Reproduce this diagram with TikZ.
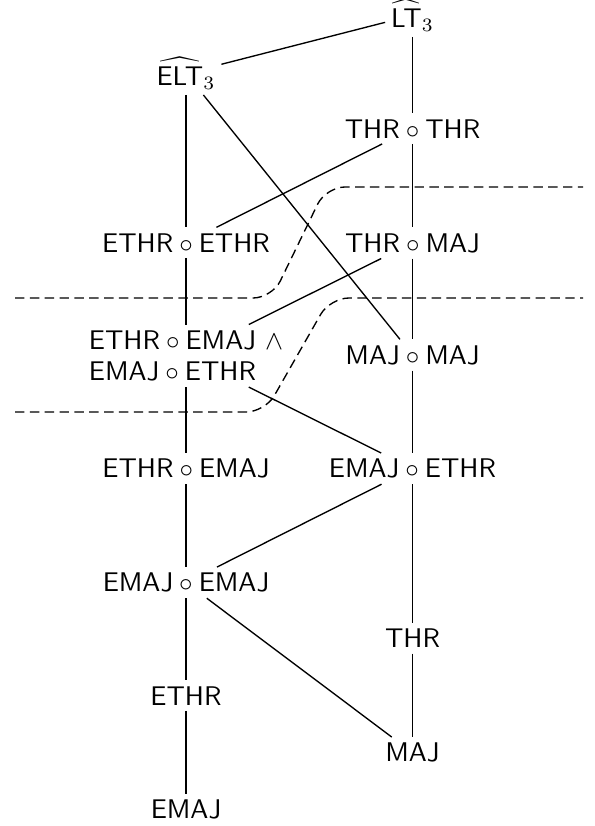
\documentclass[tikz,border=0pt]{standalone}
\newcommand{\compo}{${}\circ{}$}
\begin{document}
\begin{tikzpicture}[x=0.37037pt, y=-0.37037pt,
  every node/.style={font=\sffamily, inner sep=2pt},
  lbl/.style={anchor=base},
  conn/.style={line width=0.5pt},
  sepline/.style={line width=0.5pt, dash pattern=on 3.5pt off 2pt, rounded corners=7pt}]
\useasboundingbox (0,0) rectangle (595,826);
% nodes
\node[lbl] (lt)   at (412.5,27)  {$\widehat{\mathsf{LT}}_3$};
\node[lbl] (elt)  at (186,85)    {$\widehat{\mathsf{ELT}}_3$};
\node[lbl] (tt)   at (412.5,138) {THR\compo THR};
\node[lbl] (ee)   at (186,252)   {ETHR\compo ETHR};
\node[lbl] (tm)   at (412.5,252) {THR\compo MAJ};
\node[anchor=north, align=left, font=\sffamily\fontsize{10}{11.6}\selectfont] (two) at (186,324.5)
  {ETHR\compo EMAJ $\wedge$\\EMAJ\compo ETHR};
\node[lbl] (mm)   at (412.5,364) {MAJ\compo MAJ};
\node[lbl] (eem)  at (186,477.7) {ETHR\compo EMAJ};
\node[lbl] (emet) at (412.5,477.7) {EMAJ\compo ETHR};
\node[lbl] (emem) at (186,591.7) {EMAJ\compo EMAJ};
\node[lbl] (thr)  at (412.5,647.7) {THR};
\node[lbl] (ethr) at (186,705)   {ETHR};
\node[lbl] (maj)  at (412.5,761.7) {MAJ};
\node[lbl] (emaj) at (186,818.3) {EMAJ};
% connectors
\draw[conn] (lt) -- (elt);
\draw[conn] (lt) -- (tt);
\draw[conn] (elt) -- (ee);
\draw[conn] (elt) -- (mm);
\draw[conn] (tt) -- (ee);
\draw[conn] (tt) -- (tm);
\draw[conn] (ee) -- (two);
\draw[conn] (tm) -- (two);
\draw[conn] (tm) -- (mm);
\draw[conn] (two) -- (eem);
\draw[conn] (two) -- (emet);
\draw[conn] (mm) -- (emet);
\draw[conn] (eem) -- (emem);
\draw[conn] (emet) -- (emem);
\draw[conn] (emet) -- (thr);
\draw[conn] (thr) -- (maj);
\draw[conn] (emem) -- (maj);
\draw[conn] (emem) -- (ethr);
\draw[conn] (ethr) -- (emaj);
% separating dashed lines
\coordinate (a0) at (15,298);
\coordinate (a1) at (272,298);
\coordinate (a2) at (326,187);
\coordinate (a3) at (583,187);
\draw[sepline] (a0) -- (a1) -- (a2) -- (a3);
\coordinate (b0) at (15,412);
\coordinate (b1) at (265,412);
\coordinate (b2) at (330,298);
\coordinate (b3) at (583,298);
\draw[sepline] (b0) -- (b1) -- (b2) -- (b3);
\end{tikzpicture}
\end{document}
